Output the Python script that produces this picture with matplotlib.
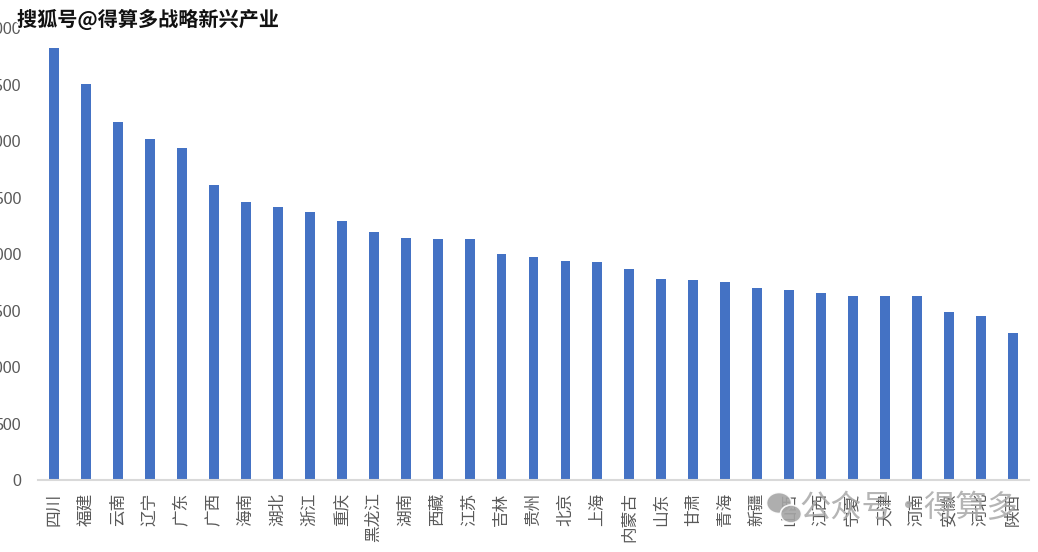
import matplotlib
matplotlib.use("Agg")
import matplotlib.pyplot as plt
import matplotlib.patheffects as pe
from matplotlib.patches import Ellipse

plt.rcParams['font.family'] = ['Noto Sans CJK SC', 'DejaVu Sans']

provinces = ["四川", "福建", "云南", "辽宁", "广东", "广西", "海南", "湖北", "浙江", "重庆",
             "黑龙江", "湖南", "西藏", "江苏", "吉林", "贵州", "北京", "上海", "内蒙古", "山东",
             "甘肃", "青海", "新疆", "山西", "江西", "宁夏", "天津", "河南", "安徽", "河北", "陕西"]
values = [3826, 3508, 3171, 3020, 2941, 2613, 2462, 2418, 2374, 2294,
          2197, 2143, 2135, 2135, 2002, 1975, 1940, 1931, 1869, 1780,
          1771, 1754, 1701, 1683, 1656, 1630, 1630, 1630, 1488, 1453, 1302]
yticks = [0, 500, 1000, 1500, 2000, 2500, 3000, 3500, 4000]

W, H = 1038, 552
fig = plt.figure(figsize=(W / 100, H / 100), dpi=100)
ax = fig.add_axes([38 / W, 72 / H, (1029 - 38) / W, (480 - 28.4) / H])

x = list(range(len(provinces)))
ax.bar(x, values, width=0.31, color='#4472C4', zorder=2)
ax.set_xlim(-0.5, len(provinces) - 0.5)
ax.set_ylim(0, 4000)
ax.set_yticks(yticks)
ax.set_yticklabels([str(t) for t in yticks], fontsize=11.5, color='#595959',
                   family=['Liberation Sans'])
ax.set_xticks(x)
ax.set_xticklabels(provinces, rotation=90, fontsize=12, color='#595959',
                   va='top', ha='center')
ax.tick_params(axis='y', length=0, pad=12)
ax.tick_params(axis='x', length=0, pad=9)
for s in ['top', 'right', 'left']:
    ax.spines[s].set_visible(False)
ax.spines['bottom'].set_color('#d9d9d9')
ax.spines['bottom'].set_linewidth(1.5)

# Title overlay
fig.text(17 / W, 1 - 20 / H, "搜狐号@得算多战略新兴产业", fontsize=14.5, fontweight='bold',
         color='#111111', ha='left', va='center',
         path_effects=[pe.withStroke(linewidth=2.5, foreground='white')], zorder=10)

# Watermark
fig.text(799 / W, 1 - 508 / H, "公众号·得算多", fontsize=22.5, color='#a8a8a8', alpha=0.85,
         ha='left', va='center', zorder=10)
fig.patches.append(Ellipse((779 / W, 1 - 503 / H), 25 / W, 21 / H, transform=fig.transFigure,
                           facecolor='#a5a5a5', edgecolor='white', lw=1.2, alpha=0.9, zorder=9))
fig.patches.append(Ellipse((791 / W, 1 - 514 / H), 21 / W, 18 / H, transform=fig.transFigure,
                           facecolor='#a5a5a5', edgecolor='white', lw=1.2, alpha=0.9, zorder=9))

fig.savefig("out.png", dpi=100, facecolor='white')
